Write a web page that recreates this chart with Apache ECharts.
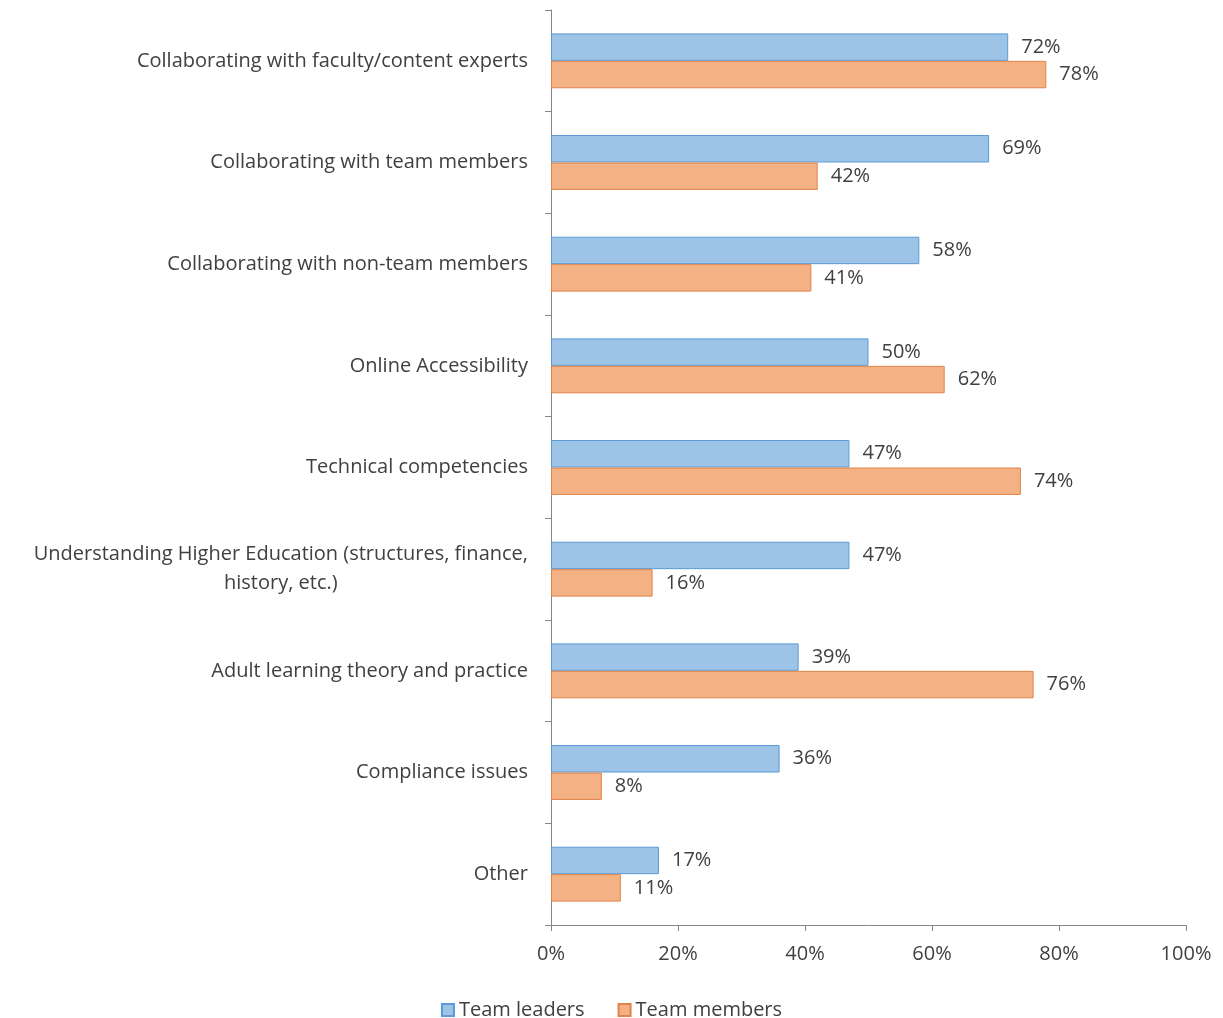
<!DOCTYPE html>
<html>
<head>
<meta charset="utf-8">
<script src="https://cdn.jsdelivr.net/npm/echarts@6/dist/echarts.min.js"></script>
<style>
  html, body { margin: 0; padding: 0; background: #fff; }
  #chart { width: 1223px; height: 1018px; }
</style>
</head>
<body>
<div id="chart"></div>
<script>
const categories = [
  'Collaborating with faculty/content experts',
  'Collaborating with team members',
  'Collaborating with non-team members',
  'Online Accessibility',
  'Technical competencies',
  'Understanding Higher Education (structures, finance,\nhistory, etc.)',
  'Adult learning theory and practice',
  'Compliance issues',
  'Other'
];
const teamLeaders = [72, 69, 58, 50, 47, 47, 39, 36, 17];
const teamMembers = [78, 42, 41, 62, 74, 16, 76, 8, 11];
const xTicks = [0, 20, 40, 60, 80, 100];

const textColor = '#404040';
const axisColor = '#868686';
const fontFamily = '"Open Sans", "Noto Sans", sans-serif';
const fontSize = 20;

const chart = echarts.init(document.getElementById('chart'));

const labelOpts = {
  show: true,
  position: 'right',
  distance: 13,
  color: textColor,
  fontSize: fontSize,
  fontFamily: fontFamily,
  formatter: p => `${p.value}%`
};

chart.setOption({
  animation: false,
  textStyle: { fontFamily: fontFamily },
  grid: { left: 551, right: 37, top: 10, bottom: 93, containLabel: false },
  legend: {
    top: 995,
    left: 'center',
    itemWidth: 12,
    itemHeight: 12,
    itemGap: 33,
    icon: 'rect',
    textStyle: { color: textColor, fontSize: fontSize, fontFamily: fontFamily },
    data: ['Team leaders', 'Team members']
  },
  xAxis: {
    type: 'value',
    min: xTicks[0],
    max: xTicks[xTicks.length - 1],
    interval: 20,
    splitLine: { show: false },
    axisLine: { show: true, lineStyle: { color: axisColor } },
    axisTick: { show: true, length: 6, lineStyle: { color: axisColor } },
    axisLabel: {
      color: textColor,
      fontSize: fontSize,
      margin: 19,
      formatter: v => `${v}%`
    }
  },
  yAxis: {
    type: 'category',
    inverse: true,
    data: categories,
    axisLine: { show: true, lineStyle: { color: axisColor } },
    axisTick: { show: true, length: 6, lineStyle: { color: axisColor } },
    axisLabel: {
      color: textColor,
      fontSize: fontSize,
      margin: 23,
      lineHeight: 29,
      formatter: v => v.split('\n').map(s => `{c|${s}}`).join('\n'),
      rich: { c: { align: 'center', color: textColor, fontSize: fontSize, fontFamily: fontFamily } }
    }
  },
  series: [
    {
      name: 'Team leaders',
      type: 'bar',
      data: teamLeaders,
      barGap: '0%',
      barCategoryGap: '46%',
      itemStyle: { color: '#9DC3E6', borderColor: '#5B9BD5', borderWidth: 1 },
      label: labelOpts
    },
    {
      name: 'Team members',
      type: 'bar',
      data: teamMembers,
      barGap: '0%',
      barCategoryGap: '46%',
      itemStyle: { color: '#F4B183', borderColor: '#E0844A', borderWidth: 1 },
      label: labelOpts
    }
  ]
});
</script>
</body>
</html>
